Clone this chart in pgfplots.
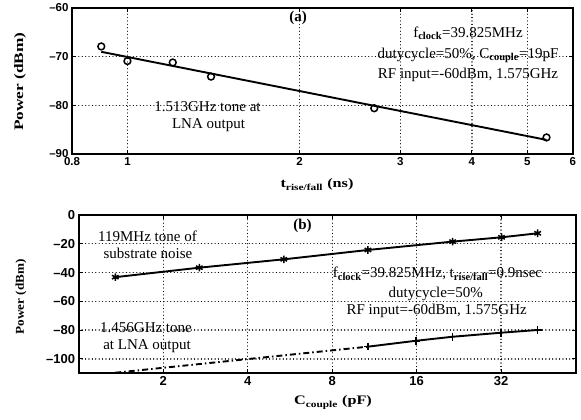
\documentclass[border=0pt]{standalone}
\usepackage{fontspec}
\setmainfont{Liberation Serif}
\newfontfamily\ticksf{Liberation Sans}
\usepackage{graphicx}
\usepackage{pgfplots}
\pgfplotsset{compat=1.18}

\newcommand\ann{\fontsize{15}{18}\selectfont}
\newcommand\sub[1]{\textsubscript{\textbf{#1}}}

\begin{document}
\begin{tikzpicture}
\useasboundingbox (0pt,0pt) rectangle (581pt,420pt);
\pgfplotsset{
  panel/.style={
    scale only axis,
    axis line style={line width=1.8pt},
    grid=major,
    grid style={draw=black, line width=1.3pt, line cap=round, dash pattern=on 0.01pt off 3.4pt},
    tick style={black, line width=1pt},
    major tick length=4pt,
    tick align=inside,
    clip=false,
  },
}
% ---- (a): power vs rise/fall time
\begin{axis}[panel,
  at={(72pt,266pt)}, anchor=south west,
  width=500.7pt, height=146pt,
  xmode=log, log basis x=10,
  xmin=0.8, xmax=6, ymin=-90, ymax=-60,
  xtick={0.8,1,2,3,4,5,6}, xticklabels={0.8,1,2,3,4,5,6},
  ytick={-90,-80,-70,-60}, yticklabels={–90,–80,–70,–60},
  tick label style={font=\ticksf\bfseries\fontsize{11.5}{11.5}\selectfont},
]
\addplot[black, line width=1.9pt] coordinates {(0.9,-69.0) (5.4,-87.1)};
\addplot[only marks, mark=o, mark size=3.4pt, mark options={line width=1.5pt, fill=white}]
  coordinates {(0.9,-67.9) (1.0,-70.9) (1.2,-71.2) (1.4,-74.1) (2.7,-80.6) (5.4,-86.6)};
\end{axis}

% ---- (b): power vs coupling capacitance
\begin{axis}[panel,
  at={(78.7pt,46.7pt)}, anchor=south west,
  width=497pt, height=158.3pt,
  xmode=log, log basis x=2,
  xmin=1, xmax=59, ymin=-110, ymax=0,
  xtick={2,4,8,16,32}, xticklabels={2,4,8,16,32},
  ytick={-100,-80,-60,-40,-20,0}, yticklabels={–100,–80,–60,–40,–20,0},
  tick label style={font=\ticksf\bfseries\fontsize{13}{13}\selectfont},
]
% 119MHz substrate-noise tone
\addplot[black, line width=1.9pt, mark=asterisk, mark size=3.8pt, mark options={line width=1.5pt}]
  coordinates {(1.35,-43.2) (2.69,-36.6) (5.38,-30.8) (10.73,-24.3) (21.5,-18.5) (32.1,-15.5) (43.2,-12.7)};
% 1.456GHz tone, below noise floor
\addplot[black, line width=1.9pt, dash pattern=on 6pt off 3pt on 1.5pt off 3pt]
  coordinates {(1.35,-109.6) (10.73,-91.5)};
% 1.456GHz tone, measured
\addplot[black, line width=1.9pt, mark=+, mark size=3.8pt, mark options={line width=1.5pt}]
  coordinates {(10.73,-91.5) (15.9,-87.4) (21.5,-84.6) (32.0,-81.8) (43.2,-79.9)};
\end{axis}

% ---- axis labels
\node[rotate=90, font=\bfseries\fontsize{13}{13}\selectfont] at (20pt,338.3pt) {\scalebox{1.33}[1]{Power (dBm)}};
\node[rotate=90, font=\bfseries\fontsize{12}{12}\selectfont] at (21pt,123pt) {\scalebox{1.1}[1]{Power (dBm)}};
\node[anchor=base, font=\bfseries\fontsize{13}{13}\selectfont] at (317pt,232pt) {\scalebox{1.25}[1]{t\sub{rise/fall} (ns)}};
\node[anchor=base, font=\bfseries\fontsize{13}{13}\selectfont] at (333pt,15pt) {\scalebox{1.25}[1]{C\sub{couple} (pF)}};

% ---- annotations (a)
\node[anchor=base, font=\bfseries\ann] at (298pt,398pt) {(a)};
\node[anchor=base, font=\ann] at (468pt,382.5pt) {f\sub{clock}=39.825MHz};
\node[anchor=base, font=\ann] at (468pt,361.5pt) {dutycycle=50\%, C\sub{couple}=19pF};
\node[anchor=base, font=\ann] at (468pt,341.5pt) {RF input=-60dBm, 1.575GHz};
\node[anchor=base, font=\ann] at (207.5pt,308pt) {1.513GHz tone at};
\node[anchor=base, font=\ann] at (208.5pt,291pt) {LNA output};

% ---- annotations (b)
\node[anchor=base, font=\bfseries\ann] at (302.5pt,190pt) {(b)};
\node[anchor=base, font=\ann] at (437.5pt,142pt) {f\sub{clock}=39.825MHz, t\sub{rise/fall}=0.9nsec};
\node[anchor=base, font=\ann] at (435.8pt,122.7pt) {dutycycle=50\%};
\node[anchor=base, font=\ann] at (436.7pt,105pt) {RF input=-60dBm, 1.575GHz};
\node[anchor=base, font=\ann] at (147.5pt,178.3pt) {119MHz tone of};
\node[anchor=base, font=\ann] at (148pt,161.7pt) {substrate noise};
\node[anchor=base, font=\ann] at (146pt,87.3pt) {1.456GHz tone};
\node[anchor=base, font=\ann] at (147pt,70.7pt) {at LNA output};
\end{tikzpicture}
\end{document}
